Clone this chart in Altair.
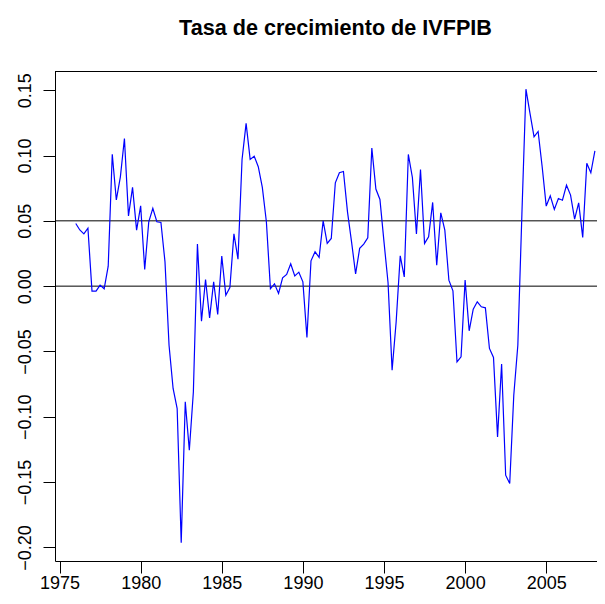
import altair as alt
import pandas as pd

title_text = "Tasa de crecimiento de IVFPIB"
start_year = 1976
values = [
    0.048, 0.043, 0.040, 0.0444, -0.0038, -0.0038, 0.0008, -0.002,
    0.0153, 0.101, 0.066, 0.0837, 0.113, 0.0538, 0.0756, 0.0429,
    0.0615, 0.0128, 0.0493, 0.0595, 0.0493, 0.0488, 0.0186, -0.0452,
    -0.0783, -0.0937, -0.1965, -0.0886, -0.1256, -0.0809, 0.0322, -0.0268,
    0.0051, -0.0243, 0.0033, -0.0217, 0.023, -0.0069, -0.001, 0.040,
    0.0207, 0.097, 0.1246, 0.097, 0.0995, 0.0914, 0.0756, 0.0493,
    -0.002, 0.0018, -0.0056, 0.0064, 0.009, 0.0171, 0.0079, 0.0107,
    0.0033, -0.0393, 0.0194, 0.0263, 0.022, 0.050, 0.0327, 0.0365,
    0.0791, 0.0868, 0.0878, 0.0569, 0.0339, 0.0094, 0.0289, 0.0322,
    0.037, 0.1057, 0.0743, 0.0664, 0.0339, 0.0026, -0.0643, -0.0273,
    0.0232, 0.0071, 0.1008, 0.0832, 0.040, 0.0893, 0.0327, 0.0378,
    0.0641, 0.0161, 0.0561, 0.0429, 0.0046, -0.0036, -0.058, -0.0541,
    0.0046, -0.0342, -0.0176, -0.012, -0.0158, -0.0166, -0.0477, -0.0546,
    -0.1154, -0.0597, -0.1447, -0.1511, -0.0835, -0.0452, 0.055, 0.1508,
    0.1322, 0.1143, 0.1184, 0.0914, 0.0613, 0.0692, 0.0587, 0.0671,
    0.0658, 0.0773, 0.0697, 0.0513, 0.0638, 0.0373, 0.094, 0.0868,
    0.1035,
]
years = [start_year + i / 4 for i in range(len(values))]
hlines = [0.0, 0.05]
x_ticks = [1975, 1980, 1985, 1990, 1995, 2000, 2005]
y_ticks = [-0.20, -0.15, -0.10, -0.05, 0.00, 0.05, 0.10, 0.15]

df = pd.DataFrame({"t": years, "v": values})
# plot box is wider than the visible window (right edge cropped off)
x_scale = alt.Scale(domain=[1974.72, 2008.13], nice=False, zero=False)
y_scale = alt.Scale(domain=[-0.2104, 0.1647], nice=False, zero=False)

FONT = "Liberation Sans"
W, H = 542, 490

line = alt.Chart(df).mark_line(color="#0000FF", strokeWidth=1.2).encode(
    x=alt.X("t:Q", scale=x_scale,
            axis=alt.Axis(values=x_ticks, format="d", title=None,
                          labelBaseline="alphabetic", labelPadding=15)),
    y=alt.Y("v:Q", scale=y_scale,
            axis=alt.Axis(values=y_ticks, format=".2f", title=None,
                          labelAngle=270, labelAlign="center",
                          labelBaseline="alphabetic", labelPadding=13)),
)

rules = alt.Chart(pd.DataFrame({"h": hlines})).mark_rule(
    color="black", strokeWidth=1
).encode(y=alt.Y("h:Q", scale=y_scale))

top_border = alt.Chart(pd.DataFrame({"h": [0]})).mark_rule(
    color="black", strokeWidth=1
).encode(y=alt.value(0.5), x=alt.value(0), x2=alt.value(W))

title = alt.Chart(pd.DataFrame({"title": [title_text]})).mark_text(
    font=FONT, fontSize=21.6, fontWeight="bold", color="black",
    align="center", baseline="alphabetic"
).encode(text="title:N", x=alt.value(280.5), y=alt.value(-36))

chart = alt.layer(rules, line, top_border, title).properties(
    width=W, height=H,
    padding={"left": 47, "top": 63, "right": 0, "bottom": 31},
    autosize=alt.AutoSizeParams(type="none"),
).configure_view(
    strokeWidth=0
).configure_axis(
    domain=True, domainColor="black", domainWidth=1,
    grid=False, tickColor="black", tickSize=12, tickWidth=1,
    labelFont=FONT, labelFontSize=18, labelColor="black",
    labelFlush=False, labelOverlap=False,
)

chart.save("out.html", embed_options={"renderer": "svg", "actions": False})
